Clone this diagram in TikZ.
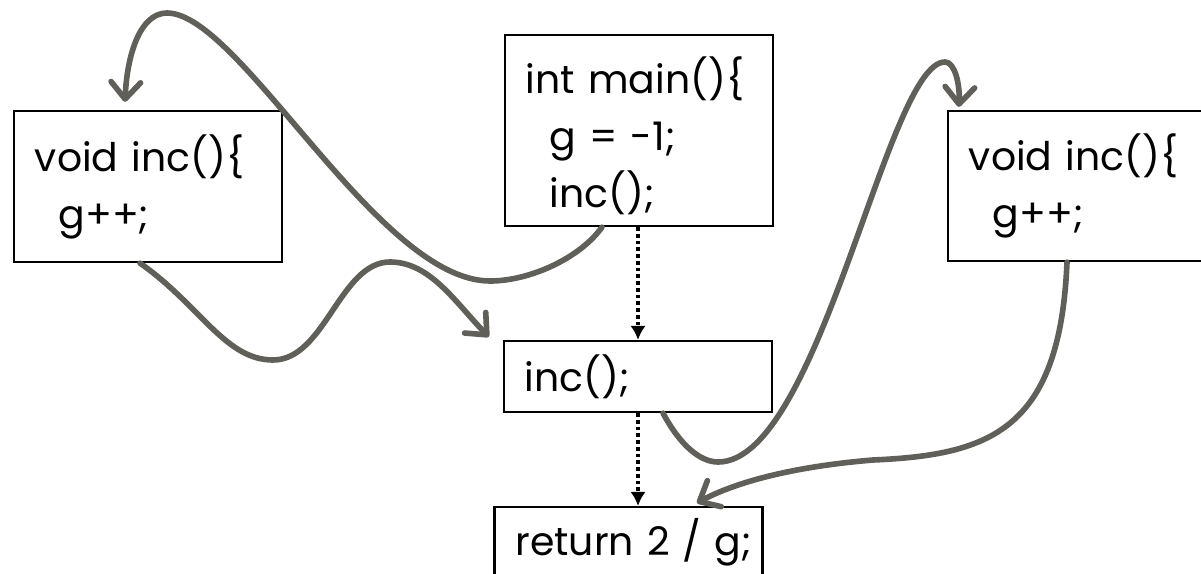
\documentclass[tikz,border=0pt]{standalone}
\usepackage{fontspec}
\setmainfont{Poppins}
\usetikzlibrary{arrows.meta}

\definecolor{flowgray}{RGB}{96,95,90}
\newcommand{\ind}{\hspace*{0.6em}}

\tikzset{
  box/.style={
    draw,
    line width=1.6pt,
    align=left,
    text width=5.65cm,
    inner xsep=0.525cm,
    inner ysep=0pt,
    minimum width=6.7cm,
    font=\fontsize{28}{40.5}\selectfont
  },
  flow/.style={
    flowgray,
    line width=4pt,
    line cap=round,
    -{Straight Barb[length=12pt,width=21pt,round]}
  },
  seq/.style={
    line width=2.4pt,
    dash pattern=on 2.6pt off 2.2pt,
    -{Latex[length=10pt,width=11pt]}
  }
}

\begin{document}
\begin{tikzpicture}[x=0.025cm, y=0.025cm]
  \useasboundingbox (0,0) rectangle (1201,573);

  \node[box, minimum height=3.775cm] (lft) at (148,386.5)
    {void~inc()\{\\ \ind g++;};
  \node[box, minimum height=4.775cm] (mn) at (639,442.5)
    {\rule{0pt}{34pt}int~main()\{\\ \ind g~=~-1;\\ \ind inc();};
  \node[box, minimum height=3.75cm] (rgt) at (1082,387)
    {void~inc()\{\\ \ind g++;};
  \node[box, minimum height=1.775cm] (call) at (638,196.5) {inc();};
  \node[box, minimum height=1.775cm] (ret) at (628.5,30.5) {return~2~/~g;};

  \draw[seq] (mn.south -| call.north) -- (call.north);
  \draw[seq] (call.south) -- (call.south |- ret.north);

  \draw[flow] ([xshift=-0.925cm]mn.south)
    .. controls (580,315) and (530,292) .. (490,292)
    .. controls (378,292) and (240,560) .. (167,560)
    .. controls (140,560) and (127,518) .. ([xshift=-0.575cm,yshift=0.2cm]lft.north);

  \draw[flow] ([xshift=-0.2cm]lft.south)
    .. controls (200,268) and (225,213) .. (273,213)
    .. controls (325,213) and (340,311) .. (390,311)
    .. controls (430,311) and (455,271) .. ([xshift=-0.35cm,yshift=0.075cm]call.north west);

  \draw[flow] ([xshift=0.625cm]call.south)
    .. controls (680,128) and (700,111) .. (718,111)
    .. controls (820,111) and (887,511) .. (945,511)
    .. controls (955,511) and (960,488) .. ([xshift=0.3cm,yshift=0.075cm]rgt.north west);

  \draw[flow] ([xshift=-0.375cm]rgt.south)
    .. controls (1060,143) and (990,118) .. (873,113)
    .. controls (800,107) and (740,93) .. ([xshift=1.71cm,yshift=0.075cm]ret.north);
\end{tikzpicture}
\end{document}
